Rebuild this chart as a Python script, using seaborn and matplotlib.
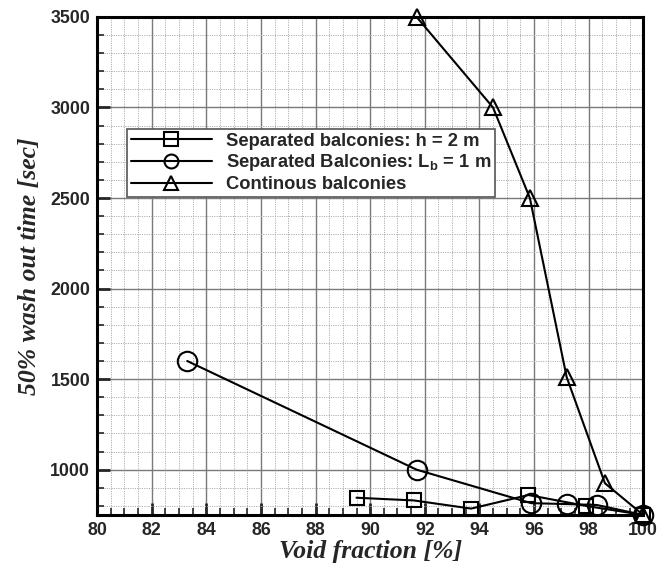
import matplotlib
matplotlib.use("Agg")
import matplotlib.pyplot as plt
from matplotlib.ticker import MultipleLocator
import seaborn as sns
import pandas as pd

# Void fraction [%] and 50% wash-out time [sec] for each balcony configuration
sep_h_x = [89.5, 91.6, 93.7, 95.8, 97.9, 100.0]
sep_h_y = [845, 830, 785, 860, 800, 750]

sep_lb_x = [83.3, 91.7, 95.9, 97.2, 98.3, 100.0]
sep_lb_y = [1600, 1000, 815, 810, 805, 750]

cont_x = [91.7, 94.5, 95.85, 97.2, 98.6, 100.0]
cont_y = [3500, 3000, 2500, 1510, 925, 750]

labels = [
    "Separated balconies: h = 2 m",
    "Separated Balconies: L$_{\\mathrm{b}}$ = 1 m",
    "Continous balconies",
]

sns.set_theme(style="white")
plt.rcParams["font.family"] = ["Liberation Sans", "DejaVu Sans"]
plt.rcParams["mathtext.fontset"] = "custom"
plt.rcParams["mathtext.rm"] = "Liberation Sans:bold"

df = pd.concat([
    pd.DataFrame({"x": sep_h_x, "y": sep_h_y, "series": labels[0]}),
    pd.DataFrame({"x": sep_lb_x, "y": sep_lb_y, "series": labels[1]}),
    pd.DataFrame({"x": cont_x, "y": cont_y, "series": labels[2]}),
])

fig = plt.figure(figsize=(6.61, 5.64), dpi=100)
ax = fig.add_axes([0.147, 0.087, 0.826, 0.883])

markers = {labels[0]: "s", labels[1]: "o", labels[2]: "^"}
sizes = {labels[0]: 10, labels[1]: 14, labels[2]: 11.5}
for lab in labels:
    sub = df[df["series"] == lab]
    sns.lineplot(data=sub, x="x", y="y", ax=ax, color="black", lw=1.5,
                 marker=markers[lab], markersize=sizes[lab],
                 markerfacecolor="none", markeredgecolor="black",
                 markeredgewidth=1.5, label=lab, sort=False, zorder=5,
                 clip_on=False)

ax.set_xlim(80, 100)
ax.set_ylim(750, 3500)
ax.xaxis.set_major_locator(MultipleLocator(2))
ax.xaxis.set_minor_locator(MultipleLocator(0.5))
ax.yaxis.set_major_locator(MultipleLocator(500))
ax.yaxis.set_minor_locator(MultipleLocator(100))

ax.grid(which="major", color="#7a7a7a", lw=1.0, ls="-")
ax.grid(which="minor", color="#b0b0b0", lw=0.7, ls=(0, (1.2, 1.2)))
ax.set_axisbelow(True)

ax.tick_params(which="major", direction="in", length=9, width=2,
               labelsize=12.8, pad=5, bottom=True, left=True)
ax.tick_params(which="minor", direction="in", length=5, width=1.2,
               bottom=True, left=True)
for lab in ax.get_xticklabels() + ax.get_yticklabels():
    lab.set_fontweight("bold")

for sp in ax.spines.values():
    sp.set_color("black")
    sp.set_linewidth(2.2)

label_font = dict(family=["Liberation Serif", "DejaVu Serif"],
                  weight="bold", style="italic", size=18.5)
ax.set_xlabel("Void fraction [%]", labelpad=1, **label_font)
ax.set_ylabel("50% wash out time [sec]", labelpad=7, **label_font)

leg = ax.legend(loc="upper left", bbox_to_anchor=(0.055, 0.775),
                frameon=True, fancybox=False, framealpha=1,
                edgecolor="#555555", handlelength=4.4, handletextpad=0.8,
                borderpad=0.2, labelspacing=0.15, borderaxespad=0,
                prop=dict(family="Liberation Sans", weight="bold", size=13.2))
leg.get_frame().set_linewidth(1.2)
for h in leg.legend_handles:
    h.set_markersize(10)

fig.savefig("out.png", dpi=100)
